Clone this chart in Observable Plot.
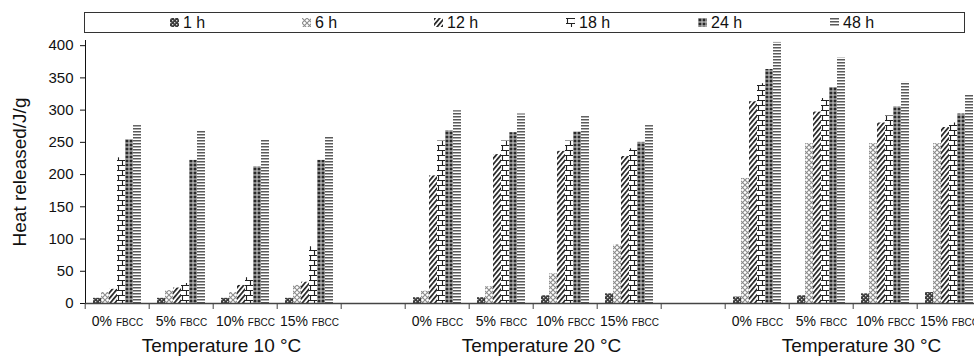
<!DOCTYPE html>
<html>
<head>
<meta charset="utf-8">
<script src="https://cdn.jsdelivr.net/npm/d3@7"></script>
<script src="https://cdn.jsdelivr.net/npm/@observablehq/plot@0.6"></script>
<style>
  html, body { margin: 0; padding: 0; background: #fff; overflow: hidden; }
  body { width: 974px; height: 357px; font-family: "Liberation Sans", Arial, Helvetica, sans-serif; }
  #legend { position: relative; width: 974px; height: 35px; }
  #legend .box { position: absolute; left: 84px; top: 12px; width: 881px; height: 21px; box-sizing: border-box;
    border: 1.3px solid #333; display: flex; align-items: center; padding-left: 85px; }
  #legend .item { width: 132px; display: flex; align-items: center; font-size: 16px; font-weight: normal; color: #111; flex: none; }
  #legend .item svg { width: 9px; height: 9px; margin-right: 4px; flex: none; }
  #chart { width: 974px; height: 322px; overflow: hidden; }
  #chart > svg { max-width: none !important; width: 1049px; height: 322px; display: block; }
  #chart g[aria-label="y-axis label"] text, #chart g[aria-label="y-axis label"] { font-size: 19px; }
</style>
</head>
<body>
<svg width="0" height="0" style="position:absolute">
  <defs>
    <pattern id="pat1" width="4" height="4" patternUnits="userSpaceOnUse">
      <rect width="4" height="4" fill="#3c3c3c"/>
      <rect x="0" y="0" width="1.3" height="1.3" fill="#d8d8d8"/>
      <rect x="2" y="2" width="1.3" height="1.3" fill="#d8d8d8"/>
    </pattern>
    <pattern id="pat6" width="5" height="5" patternUnits="userSpaceOnUse">
      <rect width="5" height="5" fill="#fff"/>
      <path d="M0,0L5,5M5,0L0,5" stroke="#8c8c8c" stroke-width="1.1"/>
    </pattern>
    <pattern id="pat12" width="3.6" height="4" patternUnits="userSpaceOnUse" patternTransform="rotate(40)">
      <rect width="3.6" height="4" fill="#fff"/>
      <rect width="1.7" height="4" fill="#222"/>
    </pattern>
    <pattern id="pat18" width="8" height="10" patternUnits="userSpaceOnUse">
      <rect width="8" height="10" fill="#fff"/>
      <path d="M0,0.5H8M0,5.5H8M1.5,0.5V5.5M5.5,5.5V10.5" stroke="#222" stroke-width="1.1"/>
    </pattern>
    <pattern id="pat24" width="4" height="4" patternUnits="userSpaceOnUse">
      <rect width="4" height="4" fill="#a8a8a8"/>
      <path d="M2,0.2L3.8,2L2,3.8L0.2,2Z" fill="#262626"/>
    </pattern>
    <pattern id="pat48" width="4" height="3" patternUnits="userSpaceOnUse">
      <rect width="4" height="3" fill="#fff"/>
      <rect y="0" width="4" height="1.5" fill="#5a5a5a"/>
    </pattern>
  </defs>
</svg>
<div id="legend"><div class="box"></div></div>
<div id="chart"></div>
<script>
// ---- data ----
const temps = ["10", "20", "30"];
const tempLabels = ["Temperature 10 °C", "Temperature 20 °C", "Temperature 30 °C"];
const categories = ["0%", "5%", "10%", "15%"];
const series = ["1 h", "6 h", "12 h", "18 h", "24 h", "48 h"];
const yTicks = [0, 50, 100, 150, 200, 250, 300, 350, 400];
// values ordered: 10 °C (0,5,10,15 %), 20 °C (0,5,10,15 %), 30 °C (0,5,10,15 %)
const h1  = [8, 8, 8, 8,       9, 9, 12, 15,       10, 12, 15, 17];
const h6  = [17, 20, 17, 28,   19, 26, 46, 91,     194, 248, 248, 248];
const h12 = [22, 24, 28, 33,   198, 231, 236, 228, 313, 297, 280, 273];
const h18 = [226, 31, 40, 88,  252, 252, 252, 240, 341, 318, 291, 280];
const h24 = [254, 222, 212, 222, 268, 265, 266, 250, 363, 335, 305, 294];
const h48 = [276, 267, 253, 258, 299, 294, 290, 276, 405, 381, 343, 324];
const patterns = ["url(#pat1)", "url(#pat6)", "url(#pat12)", "url(#pat18)", "url(#pat24)", "url(#pat48)"];

// ---- build tables ----
const values = [h1, h6, h12, h18, h24, h48];
const slots = [];
temps.forEach(t => { categories.forEach(c => slots.push(`${t}|${c}`)); slots.push(`${t}|gap`); });
const data = [];
temps.forEach((t, ti) => categories.forEach((c, ci) => series.forEach((s, si) => {
  data.push({slot: `${t}|${c}`, series: s, value: values[si][ti * categories.length + ci]});
})));
const tempData = temps.map((t, i) => ({slot: `${t}|${categories[1]}`, label: tempLabels[i]}));

// ---- legend ----
const box = document.querySelector("#legend .box");
series.forEach((s, i) => {
  const item = document.createElement("div");
  item.className = "item";
  item.innerHTML = `<svg viewBox="0 0 9 9"><rect width="9" height="9" fill="${patterns[i]}"/></svg><span>${s}</span>`;
  box.appendChild(item);
});

// ---- chart ----
const W = 1049, ML = 80, MR = 0;
const step = (W - ML - MR) / slots.length;
const FONT = '"Liberation Sans", Arial, Helvetica, sans-serif';
const chart = Plot.plot({
  width: W, height: 322,
  marginLeft: ML, marginRight: MR, marginTop: 5, marginBottom: 54,
  style: {fontFamily: FONT, fontSize: "15px", color: "#111", background: "white", overflow: "visible"},
  fx: {domain: slots, padding: 0},
  x: {domain: series, paddingInner: 0, paddingOuter: 0.85, axis: null},
  y: {domain: [0, 408], ticks: yTicks, tickSize: 5, tickPadding: 7, line: true,
      label: "Heat released/J/g", labelAnchor: "center", labelOffset: 73, labelArrow: "none"},
  color: {type: "ordinal", domain: series, range: patterns},
  marks: [
    Plot.barY(data, {fx: "slot", x: "series", y: "value", fill: "series"}),
    Plot.ruleY(slots, {fx: d => d, y: () => 0, stroke: "#444", strokeWidth: 1.4}),
    Plot.axisFx({anchor: "bottom", tickSize: 6, tickFormat: () => "", dx: -step / 2, label: null, stroke: "#444"}),
    Plot.axisFx({anchor: "bottom", tickSize: 0, tickPadding: 13, label: null, fontSize: 14,
      tickFormat: d => { const c = d.split("|")[1]; return c === "gap" ? "" : c + " FBCC"; }}),
    Plot.text(tempData, {fx: "slot", text: "label", frameAnchor: "bottom-right", textAnchor: "middle",
      lineAnchor: "middle", dy: 42, dx: 8, fontSize: 19})
  ]
});
document.getElementById("chart").appendChild(chart);

// small "FBCC" in the category labels
chart.querySelectorAll("text").forEach(el => {
  const m = /^(\d+%) FBCC$/.exec(el.textContent);
  if (!m) return;
  el.textContent = m[1] + "\u00a0";
  const ts = document.createElementNS("http://www.w3.org/2000/svg", "tspan");
  ts.setAttribute("font-size", "10");
  ts.textContent = "FBCC";
  el.appendChild(ts);
});
</script>
</body>
</html>
